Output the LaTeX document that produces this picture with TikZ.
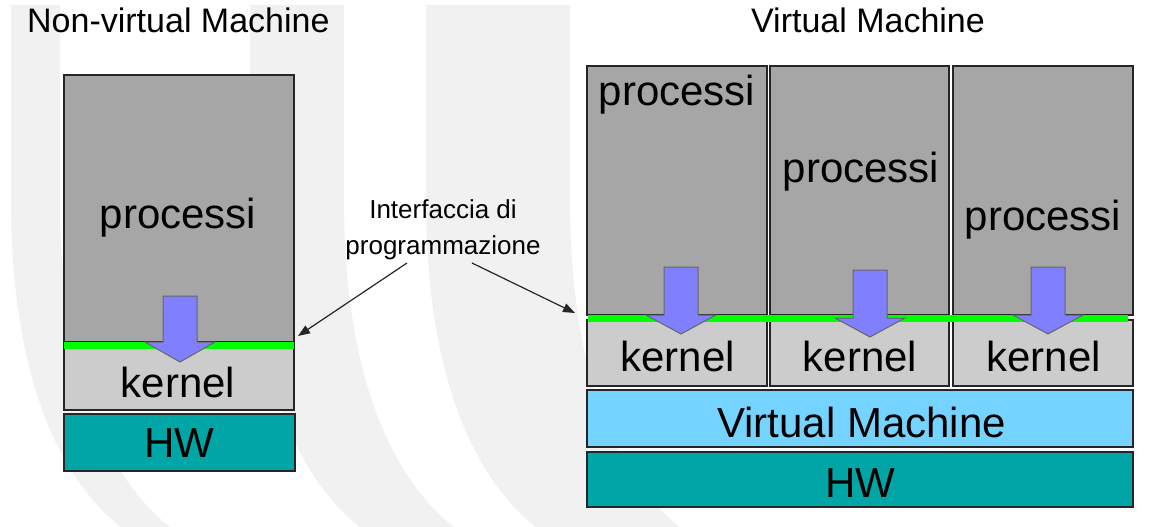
\documentclass[tikz,border=0pt]{standalone}
\usepackage{fontspec}
\setmainfont{Liberation Sans}
\usetikzlibrary{arrows.meta}
\definecolor{procgray}{HTML}{A6A6A6}
\definecolor{kerngray}{HTML}{CCCCCC}
\definecolor{hwteal}{HTML}{00A6A6}
\definecolor{vmblue}{HTML}{75D4FF}
\definecolor{ifgreen}{HTML}{00FF00}
\definecolor{arrblue}{HTML}{8080FF}
\definecolor{arredge}{HTML}{666666}
\definecolor{bgband}{HTML}{F1F1F1}
\tikzset{
  layer/.style={draw=black!85, line width=1.4pt, inner sep=0pt, outer sep=0pt},
  biglabel/.style={anchor=base, inner sep=0pt, font=\fontsize{42}{50}\selectfont},
  titlelabel/.style={inner sep=0pt, font=\fontsize{34}{40}\selectfont},
  iflabel/.style={inner sep=0pt, align=center, font=\fontsize{26}{36}\selectfont},
  greenline/.style={draw=ifgreen, line width=7pt},
  pointer/.style={draw=black!85, line width=1.2pt, -{Triangle[length=12pt,width=9pt]}},
  downarrow/.style={fill=arrblue, draw=arredge, line width=1pt}
}
% block arrow: #1 centre x, #2 top y, #3 head y, #4 tip y
\newcommand{\blockarrow}[4]{%
  \draw[downarrow] (#1-17,#2) -- (#1+17,#2) -- (#1+17,#3) -- (#1+35,#3)
    -- (#1,#4) -- (#1-35,#3) -- (#1-17,#3) -- cycle;}
% faint background band between top x #1 and #2
\newcommand{\bgarc}[2]{%
  \fill[bgband] (#1,5) -- (#1,200) .. controls (#1,380) and (#1+50,480) .. (#1+110,527)
    -- (#2+110,527) .. controls (#2+50,480) and (#2,380) .. (#2,200) -- (#2,5) -- cycle;}
\begin{document}
\begin{tikzpicture}[x=1pt,y=-1pt]
\useasboundingbox (0,0) rectangle (1154,527);
% faint background bands
\bgarc{11}{60}
\bgarc{250}{344}
\bgarc{426}{570}

% titles
\node[titlelabel, anchor=base west] (t1) at (27,33) {Non-virtual Machine};
\node[titlelabel, anchor=base] (t2) at (868,33) {Virtual Machine};

% ---------- non-virtual machine ----------
\node[layer, fill=procgray, minimum width=230pt, minimum height=267pt] (p0) at (179,208.5) {};
\node[layer, fill=kerngray, minimum width=230pt, minimum height=66pt] (k0) at (179,377) {};
\node[layer, fill=hwteal, minimum width=231pt, minimum height=57pt] (h0) at (179.5,442.5) {};
\path (p0.south west) ++(0,3.5) coordinate (g0a) (p0.south east) ++(0,3.5) coordinate (g0b);
\draw[greenline] (g0a) -- (g0b);
\node[biglabel] (pl0) at (178,228) {processi};
\node[biglabel] (kl0) at (178,397) {kernel};
\node[biglabel] (hl0) at (179,457) {HW};
\blockarrow{180}{296}{342}{362}

% ---------- virtual machine ----------
\node[layer, fill=procgray, minimum width=180pt, minimum height=249pt] (p1) at (677,190.5) {};
\node[layer, fill=procgray, minimum width=179pt, minimum height=249pt] (p2) at (859.5,190.5) {};
\node[layer, fill=procgray, minimum width=180pt, minimum height=249pt] (p3) at (1043,190.5) {};
\node[layer, fill=kerngray, minimum width=180pt, minimum height=66pt] (k1) at (677,353) {};
\node[layer, fill=kerngray, minimum width=179pt, minimum height=66pt] (k2) at (859.5,353) {};
\node[layer, fill=kerngray, minimum width=180pt, minimum height=66pt] (k3) at (1043,353) {};
\node[layer, fill=vmblue, minimum width=546pt, minimum height=57pt] (vm) at (860,418.5) {};
\node[layer, fill=hwteal, minimum width=546pt, minimum height=55pt] (hw) at (860,479.5) {};
\coordinate (g1a) at (588,318.5);
\coordinate (g1b) at (1128,318.5);
\draw[greenline] (g1a) -- (g1b);
\node[biglabel] (pl1) at (677,105) {processi};
\node[biglabel] (pl2) at (861,182) {processi};
\node[biglabel] (pl3) at (1043,230) {processi};
\node[biglabel] (kl1) at (677.5,371) {kernel};
\node[biglabel] (kl2) at (860,371) {kernel};
\node[biglabel] (kl3) at (1043.5,371) {kernel};
\node[biglabel] (vml) at (861.5,437) {Virtual Machine};
\node[biglabel] (hwl) at (860,497) {HW};
\blockarrow{681}{267}{315}{334}
\blockarrow{870}{270}{318}{337}
\blockarrow{1048}{267}{315}{334}

% ---------- programming interface ----------
\node[iflabel] (ifl) at (443,230) {Interfaccia di\\programmazione};
\coordinate (ifs1) at (407,263);
\coordinate (ifs2) at (472,263);
\coordinate (ift1) at (298,336);
\coordinate (ift2) at (575,313);
\draw[pointer] (ifs1) -- (ift1);
\draw[pointer] (ifs2) -- (ift2);
\end{tikzpicture}
\end{document}
